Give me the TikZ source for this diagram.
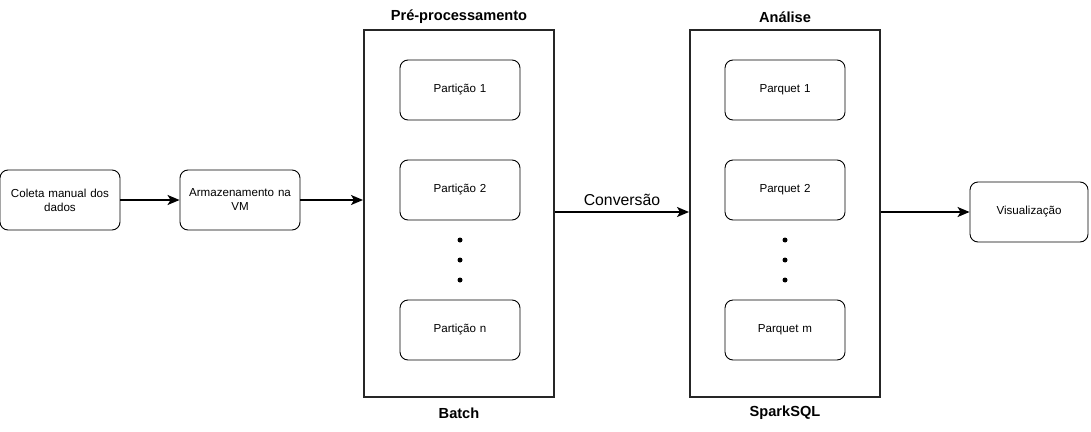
\documentclass[tikz,border=0pt]{standalone}
\usepackage{fontspec}
\setmainfont{Liberation Sans}
\usetikzlibrary{arrows.meta}
\begin{document}
\begin{tikzpicture}[x=1pt,y=-1pt,
  rbox/.style={draw=black,line width=0.9pt,rounded corners=8pt,minimum width=120pt,minimum height=60pt,inner sep=2pt,align=center,text width=116pt,font=\fontsize{11.6}{14}\selectfont},
  bigbox/.style={draw=black!85,line width=2pt,minimum width=190pt,minimum height=367pt,inner sep=0pt},
  title/.style={font=\bfseries\fontsize{14.6}{17}\selectfont},
  arr/.style={-{Stealth[length=12pt,width=10pt,inset=3pt]},line width=1.6pt},
  dot/.style={circle,fill=black,inner sep=0pt,minimum size=5pt}
]
\useasboundingbox (0,0) rectangle (1091,431);
\node[rbox] (coleta) at (60,200) {Coleta manual dos\\dados};
\node[rbox] (armaz) at (240,200) {Armazenamento na\\VM};
\node[bigbox] (pre) at (459,213.5) {};
\node[title] (pretitle) at (459,17) {Pré-processamento};
\node[title] (batch) at (459,413) {Batch};
\node[rbox] (p1) at (460,90) {Partição 1};
\node[rbox] (p2) at (460,190) {Partição 2};
\node[rbox] (pn) at (460,330) {Partição n};
\node[dot] (d1) at (460,240) {};
\node[dot] (d2) at (460,260) {};
\node[dot] (d3) at (460,280) {};
\node[bigbox] (ana) at (785,213.5) {};
\node[title] (anatitle) at (785,17) {Análise};
\node[title] (spark) at (785,413) {SparkSQL};
\node[rbox] (q1) at (785,90) {Parquet 1};
\node[rbox] (q2) at (785,190) {Parquet 2};
\node[rbox] (qm) at (785,330) {Parquet m};
\node[dot] (e1) at (785,240) {};
\node[dot] (e2) at (785,260) {};
\node[dot] (e3) at (785,280) {};
\node[rbox,minimum width=118pt,text width=114pt] (vis) at (1029,212) {Visualização};
\draw[arr] (coleta.east) -- (armaz.west);
\draw[arr] (armaz.east) -- (armaz.east -| pre.west);
\coordinate (c1) at (pre.east |- 0,212);
\draw[arr] (c1) -- node[above=2pt,font=\fontsize{15.8}{18}\selectfont] {Conversão} (c1 -| ana.west);
\coordinate (c2) at (ana.east |- 0,212);
\draw[arr] (c2) -- (vis.west);
\end{tikzpicture}
\end{document}
